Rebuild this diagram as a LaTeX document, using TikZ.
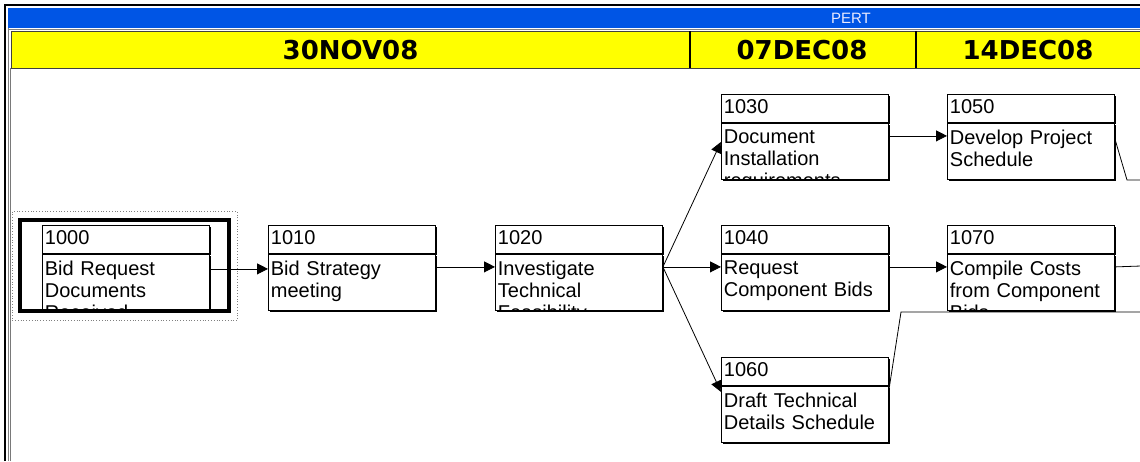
\documentclass[tikz,border=0pt]{standalone}
\usepackage{fontspec}
\setmainfont{Liberation Sans}
\newfontfamily\headfont{DejaVu Sans}
\usepackage{xcolor}
\usetikzlibrary{arrows.meta,positioning,calc,shadows}
\definecolor{titleblue}{RGB}{0,85,229}
\definecolor{bandyellow}{RGB}{255,255,0}
\definecolor{edgegray}{RGB}{64,64,64}

\begin{document}
\begin{tikzpicture}[x=1pt, y=-1pt,
  boxshadow/.style={drop shadow={shadow xshift=1.2pt, shadow yshift=-1.2pt,
    opacity=1, fill=black}},
  idbox/.style={draw, line width=0.9pt, fill=white, anchor=north west,
    minimum height=28pt, text width=162pt, inner xsep=2.5pt, inner ysep=0pt,
    text height=15pt, text depth=5pt,
    align=left, font=\fontsize{20}{22}\selectfont, boxshadow},
  bodytext/.style={draw=none, fill=none, anchor=north west, inner sep=0pt,
    minimum width=0pt, minimum height=0pt,
    text width=162pt, align=left, font=\fontsize{20}{22}\selectfont},
  bodybox/.style={draw, line width=0.9pt, fill=white, minimum width=167pt,
    minimum height=56pt, inner sep=0pt, boxshadow,
    path picture={\node[bodytext] (txt)
      at ([xshift=2pt, yshift=-6pt]path picture bounding box.north west) {#1};}},
  datetext/.style={font=\headfont\bfseries\fontsize{26}{30}\selectfont},
  link/.style={line width=0.8pt},
  >={Triangle[length=11pt, width=11pt]},
]
\useasboundingbox (0,0) rectangle (1140,461);
\fill[white] (0,0) rectangle (1140,461);

\draw[line width=2.5pt] (5.2,461) -- (5.2,5.2) -- (1140,5.2);
\draw[line width=1pt, gray] (8,461) -- (8,8);
\draw[line width=1pt, edgegray!70] (10,461) -- (10,68);
\fill[titleblue] (8,8) rectangle (1140,28);
\draw[line width=1pt, gray] (8,29.5) -- (1140,29.5);
\node[text=white!92!blue, font=\fontsize{15}{17}\selectfont] (pert) at (851,18.5) {PERT};
\draw[line width=1pt, edgegray, fill=bandyellow] (11,31) rectangle (1141,68);
\draw[line width=1.2pt] (690,31) -- (690,68);
\draw[line width=1.2pt] (916,31) -- (916,68);
\node[datetext] (wk1) at (350.5,50) {30NOV08};
\node[datetext] (wk2) at (802,50) {07DEC08};
\node[datetext] (wk3) at (1028,50) {14DEC08};

\draw[dotted, line width=0.8pt, gray] (12,211.5) rectangle (237.5,320.5);

\node[idbox] (i1000) at (42,225) {1000};
\node[bodybox={Bid Request\\Documents\\Received}, below=0pt of i1000] (b1000) {};
\draw[line width=4pt] (20,220) rectangle (229,311);
\node[idbox] (i1010) at (268,225) {1010};
\node[bodybox={Bid Strategy\\meeting}, below=0pt of i1010] (b1010) {};
\node[idbox] (i1020) at (495,225) {1020};
\node[bodybox={Investigate\\Technical\\Feasibility}, below=0pt of i1020] (b1020) {};
\node[idbox] (i1030) at (721,94) {1030};
\node[bodybox={Document\\Installation\\requirements}, below=0pt of i1030] (b1030) {};
\node[idbox] (i1040) at (721,225) {1040};
\node[bodybox={Request\\Component Bids}, below=0pt of i1040] (b1040) {};
\node[idbox] (i1060) at (721,357) {1060};
\node[bodybox={Draft Technical\\Details Schedule}, below=0pt of i1060] (b1060) {};
\node[idbox] (i1050) at (947,94) {1050};
\node[bodybox={Develop Project\\Schedule}, below=0pt of i1050] (b1050) {};
\node[idbox] (i1070) at (947,225) {1070};
\node[bodybox={Compile Costs\\from Component\\Bids}, below=0pt of i1070] (b1070) {};

\coordinate (out1050) at (1141,180);
\coordinate (out1070) at (1141,266);
\coordinate (out1060) at (1141,312);

\draw[link, ->] ([yshift=-15pt]b1000.north east) -- ([yshift=-15pt]b1010.north west);
\draw[link, ->] ([yshift=-13pt]b1010.north east) -- ([yshift=-13pt]b1020.north west);
\draw[link, ->] ([yshift=-13pt]b1020.north east) -- ([yshift=-19pt]b1030.north west);
\draw[link, ->] ([yshift=-13pt]b1020.north east) -- ([yshift=-13pt]b1040.north west);
\draw[link, ->] ([yshift=-13pt]b1020.north east) -- ([yshift=-6pt]b1060.north west);
\draw[link, ->] ([yshift=-13pt]b1030.north east) -- ([yshift=-13pt]b1050.north west);
\draw[link, ->] ([yshift=-13pt]b1040.north east) -- ([yshift=-13pt]b1070.north west);
\draw[link] ([yshift=-16pt]b1050.north east) -- (1127,180) -- (out1050);
\draw[link] ([yshift=-13pt]b1070.north east) -- (out1070);
\draw[link] ([yshift=-4pt]b1060.north east) -- (901,312) -- (out1060);
\end{tikzpicture}
\end{document}
